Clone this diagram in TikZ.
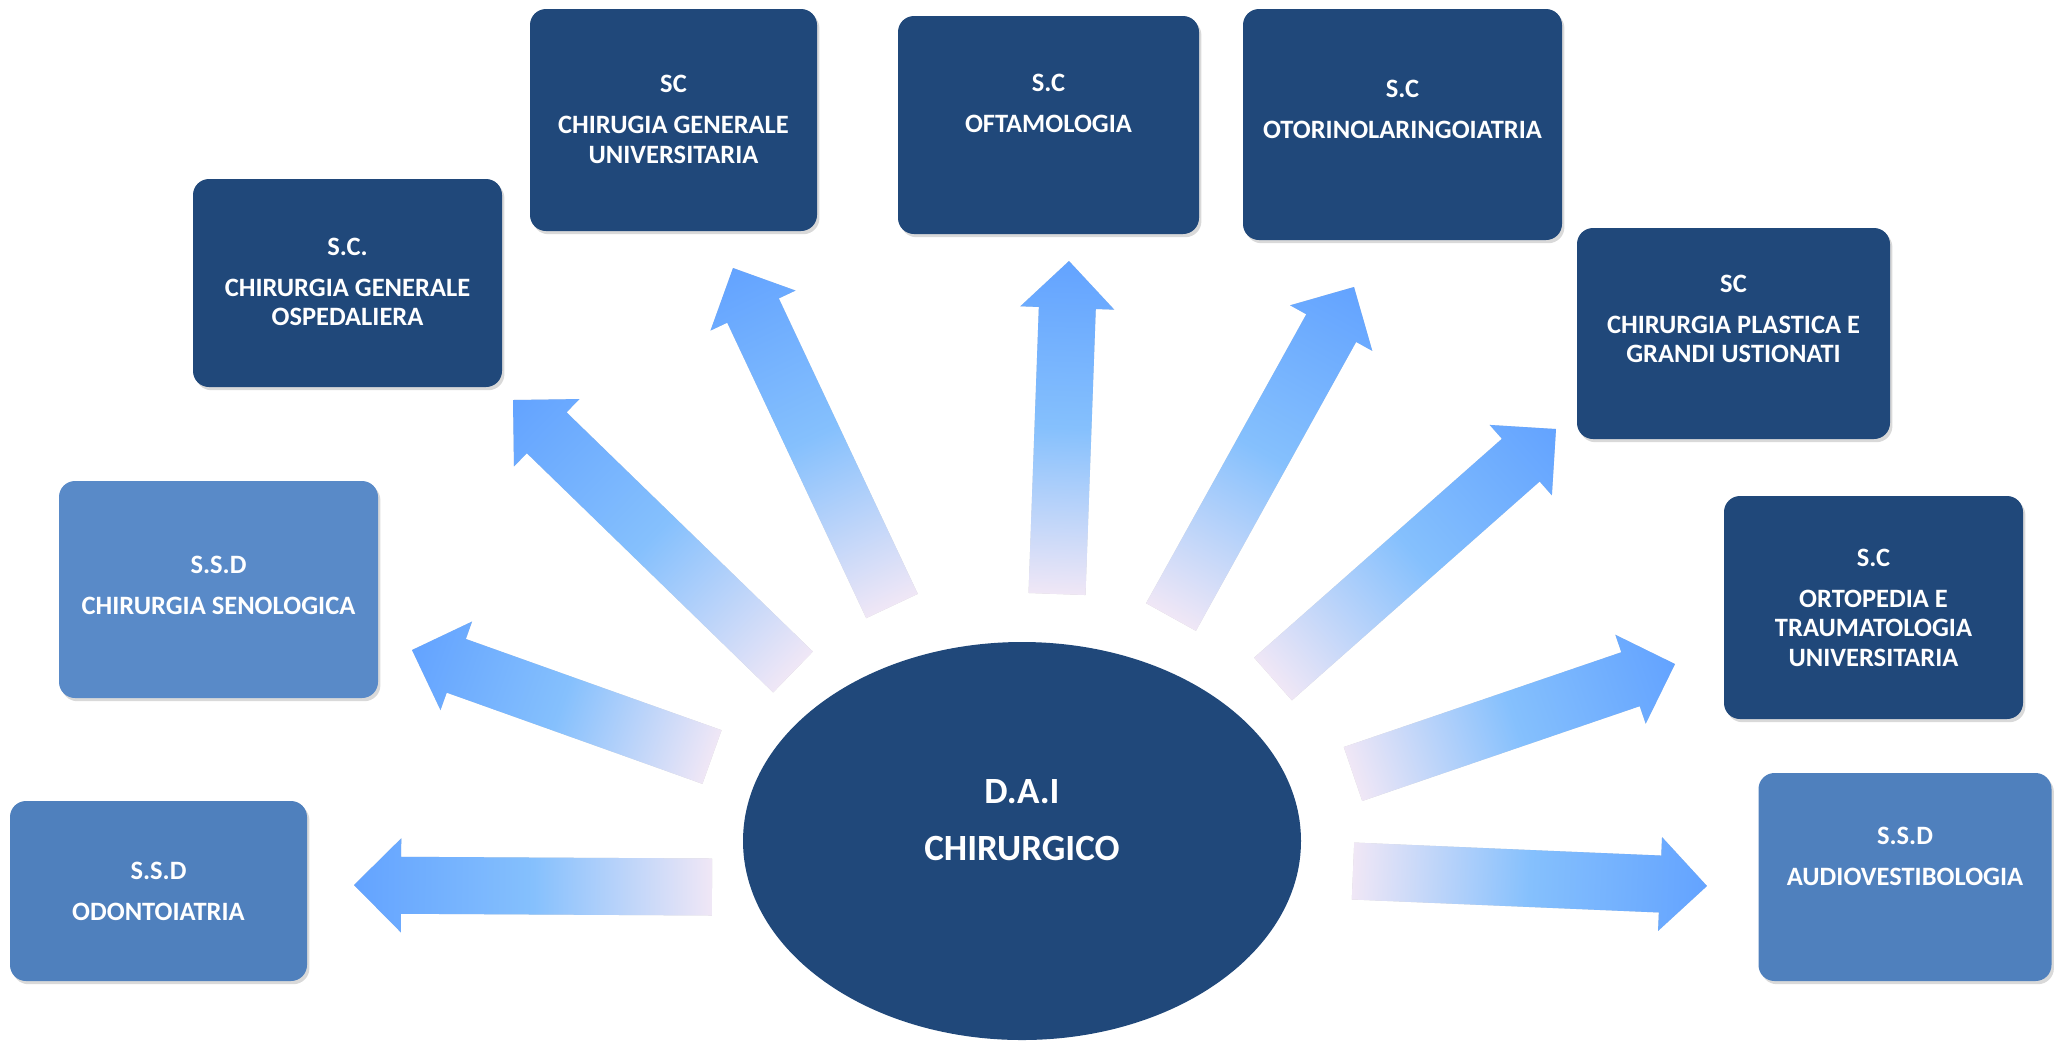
\documentclass[tikz,border=0pt]{standalone}
\usepackage{fontspec}
\setmainfont{Carlito}
\usetikzlibrary{shapes.geometric,shadows}

\definecolor{navy}{RGB}{32,72,122}
\definecolor{midblue}{RGB}{79,128,189}
\definecolor{softblue}{RGB}{89,138,200}
\definecolor{arrtail}{RGB}{240,231,246}
\definecolor{arrmid}{RGB}{133,192,253}
\definecolor{arrtip}{RGB}{99,163,255}

\pgfdeclarehorizontalshading{arrowfade}{100bp}{color(0bp)=(arrtail); color(25bp)=(arrtail); color(50bp)=(arrmid); color(75bp)=(arrtip); color(100bp)=(arrtip)}

% outline of a block arrow lying along x, length \arrlen
\newcommand{\arrowoutline}{(0pt,-14.25pt) -- ({\arrlen pt-23.5pt},-14.25pt) -- ({\arrlen pt-23.5pt},-23.5pt) -- (\arrlen pt,0pt) -- ({\arrlen pt-23.5pt},23.5pt) -- ({\arrlen pt-23.5pt},14.25pt) -- (0pt,14.25pt) -- cycle}
% block arrow from coordinate #1 to coordinate #2
\newcommand{\blockarrow}[2]{%
  \pgfpointdiff{\pgfpointanchor{#1}{center}}{\pgfpointanchor{#2}{center}}%
  \pgfgetlastxy{\arrdx}{\arrdy}%
  \pgfmathsetmacro{\arrang}{atan2(\arrdy,\arrdx)}%
  \pgfmathsetmacro{\arrlen}{veclen(\arrdx,\arrdy)}%
  \begin{scope}[transform canvas={xshift=1.2pt,yshift=-1.6pt,shift={(#1)},rotate=\arrang}]
    \fill[black,opacity=0.18] \arrowoutline;
  \end{scope}
  \begin{scope}[transform canvas={shift={(#1)},rotate=\arrang}]
    \shade[shading=arrowfade] \arrowoutline;
  \end{scope}}

\tikzset{
  unitbox/.style={rectangle, rounded corners=8pt, inner sep=0pt,
    drop shadow={shadow xshift=1.2pt, shadow yshift=-1.6pt, opacity=0.3}},
  scbox/.style={unitbox, fill=navy},
  ssdbox/.style={unitbox, fill=midblue},
  hub/.style={ellipse, fill=navy, inner sep=0pt, minimum width=279pt, minimum height=199pt},
  lbl/.style={text=white, align=center, inner sep=0pt,
    font=\bfseries\fontsize{13.25pt}{14.75pt}\selectfont},
}

\begin{document}
\begin{tikzpicture}[x=0.5pt, y=-0.5pt]
  \useasboundingbox (0,0) rectangle (2062,1041);

  % centre
  \node[hub] (dai) at (1022,841) {};
  \node[lbl, font=\bfseries\fontsize{18.5pt}{28.5pt}\selectfont] (dai-txt) at (1022,820) {D.A.I\\CHIRURGICO};

  % S.C. units
  \node[scbox, minimum width=154.5pt, minimum height=104pt] (ospedaliera) at (347.5,283) {};
  \node[lbl] (ospedaliera-txt) at (347.5,282) {S.C.\\[5.75pt]CHIRURGIA GENERALE\\OSPEDALIERA};
  \node[scbox, minimum width=143.5pt, minimum height=111pt] (universitaria) at (673.5,120) {};
  \node[lbl] (universitaria-txt) at (673.5,119.5) {SC\\[5.75pt]CHIRUGIA GENERALE\\UNIVERSITARIA};
  \node[scbox, minimum width=150.5pt, minimum height=109pt] (oftamologia) at (1048.5,125) {};
  \node[lbl] (oftamologia-txt) at (1048.5,103.5) {S.C\\[5.75pt]OFTAMOLOGIA};
  \node[scbox, minimum width=159.5pt, minimum height=115.5pt] (otorino) at (1402.5,124.5) {};
  \node[lbl] (otorino-txt) at (1402.5,109.5) {S.C\\[5.75pt]OTORINOLARINGOIATRIA};
  \node[scbox, minimum width=156.5pt, minimum height=105.5pt] (plastica) at (1733.5,333.5) {};
  \node[lbl] (plastica-txt) at (1733.5,319) {SC\\[5.75pt]CHIRURGIA PLASTICA E\\GRANDI USTIONATI};
  \node[scbox, minimum width=149.5pt, minimum height=111.5pt] (ortopedia) at (1873.5,607.5) {};
  \node[lbl] (ortopedia-txt) at (1873.5,607.5) {S.C\\[5.75pt]ORTOPEDIA E\\TRAUMATOLOGIA\\UNIVERSITARIA};

  % S.S.D. units
  \node[ssdbox, minimum width=146.5pt, minimum height=104pt] (audio) at (1905,877) {};
  \node[lbl] (audio-txt) at (1905,856.5) {S.S.D\\[5.75pt]AUDIOVESTIBOLOGIA};
  \node[ssdbox, fill=softblue, minimum width=159.5pt, minimum height=108.5pt] (senologica) at (218.5,589.5) {};
  \node[lbl] (senologica-txt) at (218.5,585.5) {S.S.D\\[5.75pt]CHIRURGIA SENOLOGICA};
  \node[ssdbox, minimum width=148.5pt, minimum height=90pt] (odonto) at (158.5,891) {};
  \node[lbl] (odonto-txt) at (158.5,891) {S.S.D\\[5.75pt]ODONTOIATRIA};

  % arrow ends
  \coordinate (from-odonto) at (712,887);         \coordinate (to-odonto) at (354,885);
  \coordinate (from-senologica) at (712,757);     \coordinate (to-senologica) at (412,650);
  \coordinate (from-ospedaliera) at (793,672);    \coordinate (to-ospedaliera) at (513,400);
  \coordinate (from-universitaria) at (892,606);  \coordinate (to-universitaria) at (733,268);
  \coordinate (from-oftamologia) at (1057,594);   \coordinate (to-oftamologia) at (1069,261);
  \coordinate (from-otorino) at (1171,617);       \coordinate (to-otorino) at (1354,287);
  \coordinate (from-plastica) at (1273,679);      \coordinate (to-plastica) at (1556,429);
  \coordinate (from-ortopedia) at (1353,774);     \coordinate (to-ortopedia) at (1675,664);
  \coordinate (from-audio) at (1353,871);         \coordinate (to-audio) at (1707,886);

  \foreach \n in {odonto,senologica,ospedaliera,universitaria,oftamologia,otorino,plastica,ortopedia,audio}
    {\blockarrow{from-\n}{to-\n}}
\end{tikzpicture}
\end{document}
